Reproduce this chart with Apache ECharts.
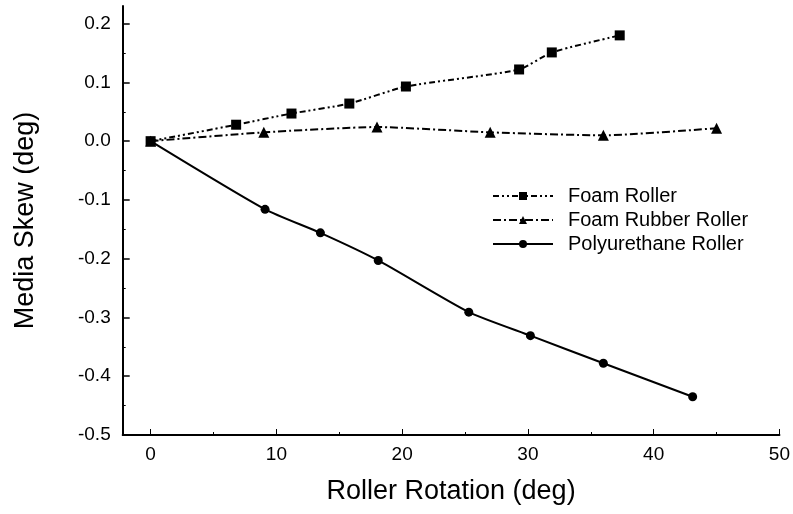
<!DOCTYPE html>
<html>
<head>
<meta charset="utf-8">
<script src="https://cdn.jsdelivr.net/npm/echarts@6/dist/echarts.min.js"></script>
<style>
  html, body { margin: 0; padding: 0; background: #fff; }
  #chart { width: 793px; height: 514px; }
</style>
</head>
<body>
<div id="chart"></div>
<script>
// ---- data ----
const foamX = [0, 6.8, 11.2, 15.8, 20.3, 29.3, 31.9, 37.3];
const foamY = [0, 0.028, 0.047, 0.064, 0.093, 0.122, 0.151, 0.180];
const rubberX = [0, 9, 18, 27, 36, 45];
const rubberY = [0, 0.015, 0.024, 0.015, 0.010, 0.022];
const polyX = [0, 9.1, 13.5, 18.1, 25.3, 30.2, 36.0, 43.1];
const polyY = [0, -0.116, -0.156, -0.203, -0.291, -0.331, -0.378, -0.435];
const seriesNames = ['Foam Roller', 'Foam Rubber Roller', 'Polyurethane Roller'];
const xTickLabels = [0, 10, 20, 30, 40, 50];
const xMinorTicks = [5, 15, 25, 35, 45];
const yTickLabels = [-0.5, -0.4, -0.3, -0.2, -0.1, 0.0, 0.1, 0.2];
const yMinorTicks = [-0.45, -0.35, -0.25, -0.15, -0.05, 0.05, 0.15];
const xTitle = 'Roller Rotation (deg)';
const yTitle = 'Media Skew (deg)';

const pairs = (xs, ys) => xs.map((x, i) => [x, ys[i]]);
const FONT = '"Liberation Sans", Arial, sans-serif';
const X_MIN = -2.22, X_MAX = 50, Y_MIN = -0.5, Y_MAX = 0.23;

const chart = echarts.init(document.getElementById('chart'), null, { renderer: 'canvas' });
chart.setOption({
  animation: false,
  backgroundColor: '#ffffff',
  grid: { left: 122.7, right: 12, top: 6, bottom: 79, containLabel: false },
  legend: {
    left: 487, top: 181, orient: 'vertical',
    itemWidth: 60, itemHeight: 10, itemGap: 4,
    textStyle: { fontFamily: FONT, fontSize: 20, color: '#000', lineHeight: 20, padding: [0, 0, 0, 10] },
    data: seriesNames
  },
  xAxis: [{
    type: 'value', min: X_MIN, max: X_MAX,
    name: xTitle, nameLocation: 'middle', nameGap: 43,
    nameTextStyle: { fontFamily: FONT, fontSize: 27, color: '#000' },
    axisLine: { show: true, onZero: false, lineStyle: { color: '#000', width: 2 } },
    axisTick: { show: true, inside: true, length: 6, customValues: xTickLabels, lineStyle: { color: '#000', width: 1 } },
    axisLabel: { customValues: xTickLabels, fontFamily: FONT, fontSize: 19, color: '#000', margin: 10 },
    splitLine: { show: false }
  }, {
    type: 'value', min: X_MIN, max: X_MAX, position: 'bottom',
    axisLine: { show: false, onZero: false },
    axisTick: { show: true, inside: true, length: 3, customValues: xMinorTicks, lineStyle: { color: '#000', width: 1 } },
    axisLabel: { show: false },
    splitLine: { show: false }
  }],
  yAxis: [{
    type: 'value', min: Y_MIN, max: Y_MAX,
    name: yTitle, nameLocation: 'middle', nameGap: 84,
    nameTextStyle: { fontFamily: FONT, fontSize: 27, color: '#000' },
    axisLine: { show: true, onZero: false, lineStyle: { color: '#000', width: 2 } },
    axisTick: { show: true, inside: true, length: 7, customValues: yTickLabels, lineStyle: { color: '#000', width: 1.5 } },
    axisLabel: { customValues: yTickLabels, fontFamily: FONT, fontSize: 19, color: '#000', margin: 12,
      formatter: v => (Math.abs(v) < 1e-9 ? 0 : v).toFixed(1) },
    splitLine: { show: false }
  }, {
    type: 'value', min: Y_MIN, max: Y_MAX, position: 'left',
    axisLine: { show: false, onZero: false },
    axisTick: { show: true, inside: true, length: 3, customValues: yMinorTicks, lineStyle: { color: '#000', width: 1 } },
    axisLabel: { show: false },
    splitLine: { show: false }
  }],
  series: [{
    name: seriesNames[0], type: 'line', data: pairs(foamX, foamY),
    smooth: 0.2, symbol: 'rect', symbolSize: 10,
    itemStyle: { color: '#000' },
    lineStyle: { color: '#000', width: 2, type: [6, 3, 2, 3, 2, 3] }
  }, {
    name: seriesNames[1], type: 'line', data: pairs(rubberX, rubberY),
    smooth: 0.2, symbol: 'triangle', symbolSize: 11,
    itemStyle: { color: '#000' },
    lineStyle: { color: '#000', width: 2, type: [8, 3, 2, 3] }
  }, {
    name: seriesNames[2], type: 'line', data: pairs(polyX, polyY),
    smooth: 0.2, symbol: 'circle', symbolSize: 9,
    itemStyle: { color: '#000' },
    lineStyle: { color: '#000', width: 2, type: 'solid' }
  }]
});
</script>
</body>
</html>
